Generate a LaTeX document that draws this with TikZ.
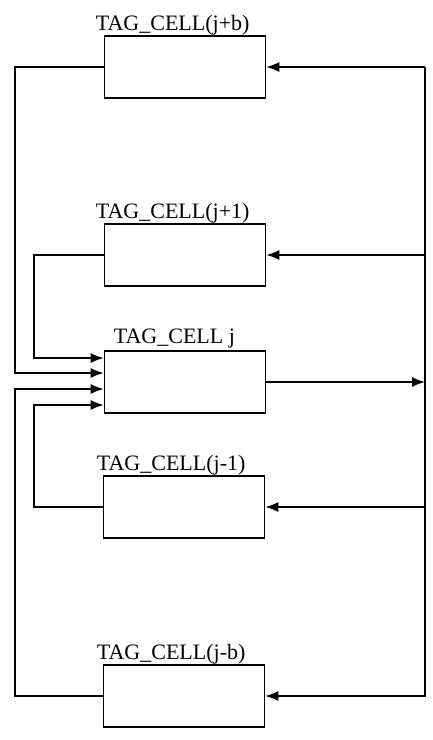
\documentclass[tikz,border=0pt]{standalone}
\usepackage{fontspec}
\setmainfont{Liberation Serif}
\usetikzlibrary{positioning, arrows.meta, calc}
\tikzset{
  every node/.style = {font=\rmfamily},
  tcbox/.style  = {draw, line width=1.6pt, minimum width=161pt, minimum height=62pt, inner sep=0pt},
  tclab/.style  = {font=\fontsize{22}{26}\selectfont, anchor=base west, inner sep=0pt},
  tcwire/.style = {line width=1.5pt},
  tcarr/.style  = {-{Latex[length=13pt,width=10pt]}, line width=1.5pt},
}
\begin{document}
\begin{tikzpicture}[x=1pt, y=-1pt]
\useasboundingbox (0,0) rectangle (433,740);

\node[tcbox] (jb)  at (185,67)  {};
\node[tcbox] (j1)  at (185,255) {};
\node[tcbox] (j)   at (185,382) {};
\node[tcbox] (jm1) at (184,507) {};
\node[tcbox] (jmb) at (184,696) {};

\node[tclab] (ljb)  at ([xshift=-8pt,yshift=5pt]jb.north west)  {TAG\_CELL(j+b)};
\node[tclab] (lj1)  at ([xshift=-8pt,yshift=5pt]j1.north west)  {TAG\_CELL(j+1)};
\node[tclab] (lj)   at ([xshift=10pt,yshift=7pt]j.north west)   {TAG\_CELL j};
\node[tclab] (ljm1) at ([xshift=-6pt,yshift=5pt]jm1.north west) {TAG\_CELL(j-1)};
\node[tclab] (ljmb) at ([xshift=-6pt,yshift=5pt]jmb.north west) {TAG\_CELL(j-b)};

% wire columns
\coordinate (lo)   at (15,0);
\coordinate (li)   at (34,0);
\coordinate (rtop) at (425,67);
\coordinate (rbot) at (425,697);

% right bus
\draw[tcwire] (rtop) -- (rbot);
\foreach \n in {jb,j1,jm1,jmb}{\draw[tcarr] (\n.east -| rtop) -- (\n.east);}
\draw[tcarr] (j.east) -- (j.east -| rtop);

% left feedback into TAG_CELL j
\draw[tcarr] (j1.west)  -- (j1.west -| li)  |- ([yshift=24pt]j.west);
\draw[tcarr] (jb.west)  -- (jb.west -| lo)  |- ([yshift=9pt]j.west);
\draw[tcarr] (jmb.west) -- (jmb.west -| lo) |- ([yshift=-7pt]j.west);
\draw[tcarr] (jm1.west) -- (jm1.west -| li) |- ([yshift=-23pt]j.west);
\end{tikzpicture}
\end{document}
